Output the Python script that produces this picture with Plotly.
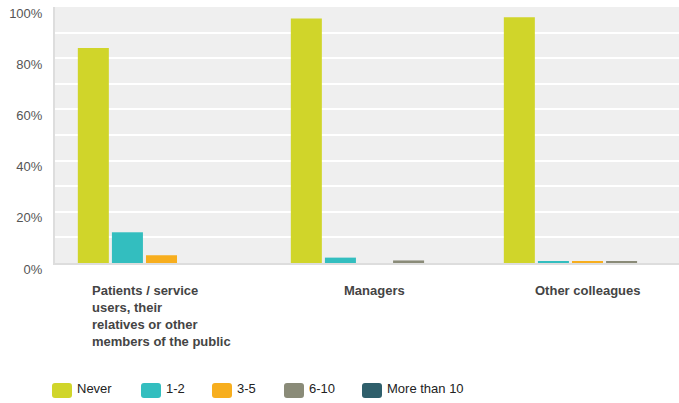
import plotly.graph_objects as go

# ---- data ----
categories = ["Patients / service users, their relatives or other members of the public",
              "Managers", "Other colleagues"]
category_labels = ["Patients / service<br>users, their<br>relatives or other<br>members of the public",
                   "Managers", "Other colleagues"]
series_names = ["Never", "1-2", "3-5", "6-10", "More than 10"]
never = [84, 95.5, 96]
one_two = [12, 2.1, 0.5]
three_five = [3, 0, 0.5]
six_ten = [0, 1, 0.5]
more_than_10 = [0, 0, 0]
y_ticks = [0, 20, 40, 60, 80, 100]
y_tick_labels = ["0%", "20%", "40%", "60%", "80%", "100%"]

colors = ["#D0D52A", "#33BEBF", "#F7AE1E", "#8A8B78", "#2F5F6B"]
values = [never, one_two, three_five, six_ten, more_than_10]

W, H = 679, 403
L, R, T, B = 55, 0, 7, 140
PW, PH = W - L - R, H - T - B

def px_x(p):
    return (p - L) / PW

def px_y(p):
    return (H - B - p) / PH

def rounded_rect(x0, y0, w, h, r):
    # pixel box -> paper-coordinate SVG path with rounded corners
    X = lambda p: f"{px_x(p):.5f}"
    Y = lambda p: f"{px_y(p):.5f}"
    x1, y1 = x0 + w, y0 + h
    return (f"M {X(x0 + r)},{Y(y0)} L {X(x1 - r)},{Y(y0)} Q {X(x1)},{Y(y0)} {X(x1)},{Y(y0 + r)} "
            f"L {X(x1)},{Y(y1 - r)} Q {X(x1)},{Y(y1)} {X(x1 - r)},{Y(y1)} "
            f"L {X(x0 + r)},{Y(y1)} Q {X(x0)},{Y(y1)} {X(x0)},{Y(y1 - r)} "
            f"L {X(x0)},{Y(y0 + r)} Q {X(x0)},{Y(y0)} {X(x0 + r)},{Y(y0)} Z")

fig = go.Figure()
for name, vals, col in zip(series_names, values, colors):
    fig.add_trace(go.Bar(x=categories, y=vals, name=name, marker_color=col,
                         marker_line_width=0, showlegend=False))

FONT = "Liberation Sans, Arial, Helvetica, sans-serif"

annotations = []
for cat, lab in zip(categories, category_labels):
    annotations.append(dict(text=lab, xref="x", yref="paper", x=cat, y=px_y(281),
                            xanchor="center", yanchor="top", align="left", showarrow=False,
                            font=dict(family=FONT, size=13, color="#444444", weight="bold")))

# manual legend
shapes = []
sw_x = [52, 141, 212, 284, 362]
for name, col, xp in zip(series_names, colors, sw_x):
    shapes.append(dict(type="path", xref="paper", yref="paper",
                       path=rounded_rect(xp, 383, 20, 15, 3),
                       fillcolor=col, line=dict(width=0)))
    annotations.append(dict(text=name, xref="paper", yref="paper", x=px_x(xp + 23), y=px_y(388.5),
                            xanchor="left", yanchor="middle", showarrow=False,
                            font=dict(family=FONT, size=13, color="#222222")))

fig.update_layout(
    width=W, height=H,
    margin=dict(l=L, r=R, t=T, b=B, pad=0),
    paper_bgcolor="white", plot_bgcolor="#EFEFEF",
    barmode="group", bargap=0.2, bargroupgap=0.09,
    font=dict(family=FONT, size=13, color="#555555"),
    annotations=annotations, shapes=shapes,
    showlegend=False,
)
fig.update_xaxes(range=[-0.5, -0.5 + PW / 213], showticklabels=False, showgrid=False,
                 showline=True, linecolor="#DDDDDD", linewidth=2, zeroline=False,
                 fixedrange=True)
fig.update_yaxes(range=[0, 100], tickvals=y_ticks, ticktext=y_tick_labels,
                 showgrid=True, gridcolor="white", gridwidth=1.5,
                 minor=dict(dtick=10, showgrid=True, gridcolor="white", gridwidth=1.5),
                 showline=True, linecolor="#DDDDDD", linewidth=2, zeroline=False,
                 ticks="", ticklabelstandoff=8, ticklabelshift=6,
                 tickfont=dict(family=FONT, size=13, color="#555555"))

fig.write_html("out.html", config={"displayModeBar": False},
               post_script="document.body.style.margin='0';")
